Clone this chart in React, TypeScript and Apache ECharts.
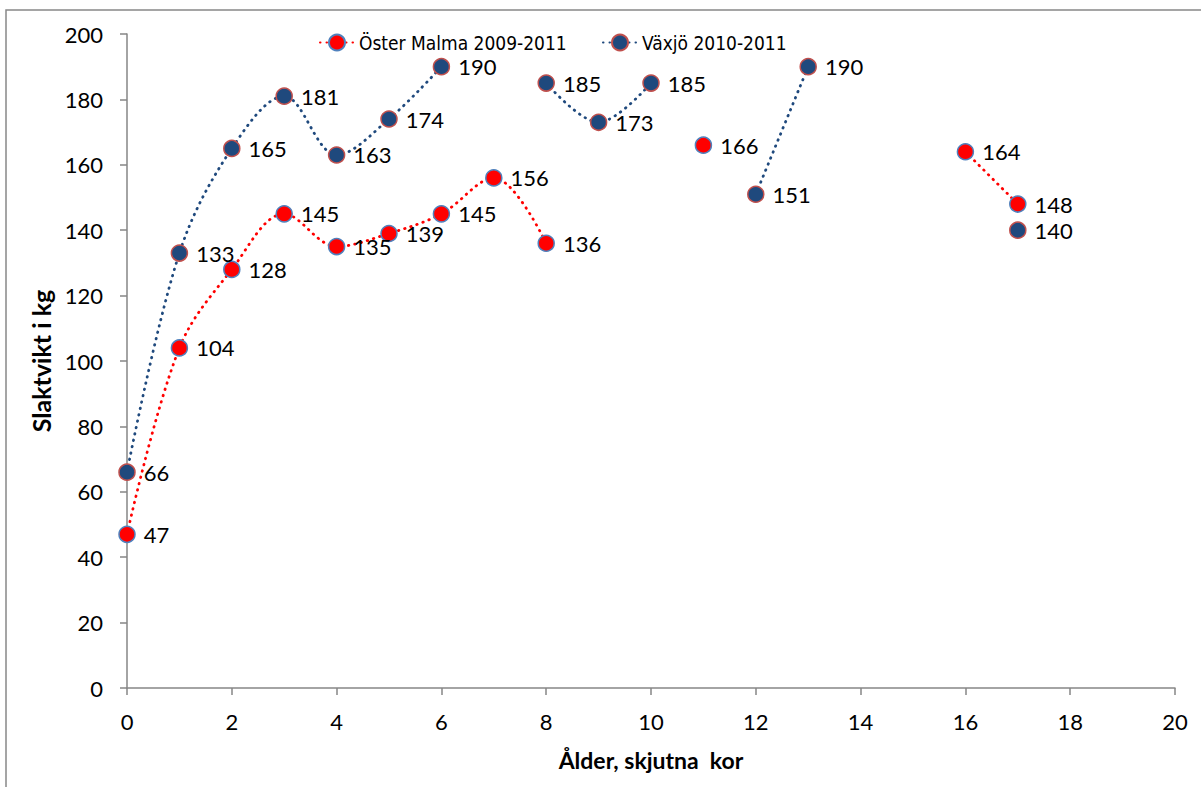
import React, { useEffect, useRef } from "react";
import * as echarts from "echarts";

const ages = [0, 1, 2, 3, 4, 5, 6, 7, 8, 9, 10, 11, 12, 13, 14, 15, 16, 17];
const osterMalma: (number | null)[] = [47, 104, 128, 145, 135, 139, 145, 156, 136, null, null, 166, null, null, null, null, 164, 148];
const vaxjo: (number | null)[] = [66, 133, 165, 181, 163, 174, 190, null, 185, 173, 185, null, 151, 190, null, null, null, 140];
const seriesNames = ["Öster Malma 2009-2011", "Växjö 2010-2011"];
const xTitle = "Ålder, skjutna  kor";
const yTitle = "Slaktvikt i kg";

const FONT = "Lato, 'Open Sans', sans-serif";
const LEGEND_FONT = "'DejaVu Sans Condensed', Lato, sans-serif";

function toData(vals: (number | null)[]) {
  return ages.map((x, i) => [x, vals[i] === null ? "-" : vals[i]]);
}

export default function App() {
  const ref = useRef<HTMLDivElement>(null);
  useEffect(() => {
    if (!ref.current) return;
    const chart = echarts.init(ref.current, undefined, { renderer: "svg" });
    const mk = (name: string, vals: (number | null)[], color: string, border: string) => ({
      name,
      type: "line",
      data: toData(vals),
      smooth: 0.35,
      connectNulls: false,
      symbol: "circle",
      symbolSize: 16,
      showAllSymbol: true,
      itemStyle: { color, borderColor: border, borderWidth: 1.5 },
      lineStyle: { color, width: 2.8, type: [0.5, 6], cap: "round" },
      label: {
        show: true,
        position: "right",
        distance: 8,
        fontSize: 22,
        fontFamily: FONT,
        color: "#000",
        formatter: (p: any) => String(p.value[1]),
      },
      emphasis: { disabled: true },
    });
    const legendBase = {
      top: 28,
      itemWidth: 34,
      itemHeight: 20,
      itemGap: 10,
      textStyle: { fontSize: 19, fontFamily: LEGEND_FONT, color: "#000" },
    };
    chart.setOption({
      animation: false,
      backgroundColor: "#fff",
      textStyle: { fontFamily: FONT },
      graphic: [
        {
          type: "rect",
          shape: { x: 6, y: 10, width: 1300, height: 900 },
          style: { fill: "none", stroke: "#888", lineWidth: 1.5 },
          silent: true,
        },
      ],
      legend: [
        { ...legendBase, left: 314, data: [seriesNames[0]] },
        { ...legendBase, left: 597, data: [seriesNames[1]] },
      ],
      grid: { left: 127, right: 26, top: 34, bottom: 99, containLabel: false },
      xAxis: {
        type: "value",
        min: 0,
        max: 20,
        interval: 2,
        name: xTitle,
        nameLocation: "middle",
        nameGap: 60,
        nameTextStyle: { fontSize: 23, fontWeight: "bold", fontFamily: FONT, color: "#000" },
        axisLine: { show: true, lineStyle: { color: "#868686", width: 1.5 } },
        axisTick: { show: true, length: 7, lineStyle: { color: "#868686", width: 1.5 } },
        axisLabel: { fontSize: 22, fontFamily: FONT, color: "#000", margin: 22 },
        splitLine: { show: false },
      },
      yAxis: {
        type: "value",
        min: 0,
        max: 200,
        interval: 20,
        name: yTitle,
        nameLocation: "middle",
        nameGap: 69,
        nameTextStyle: { fontSize: 25, fontWeight: "bold", fontFamily: FONT, color: "#000" },
        axisLine: { show: true, lineStyle: { color: "#868686", width: 1.5 } },
        axisTick: { show: true, length: 7, lineStyle: { color: "#868686", width: 1.5 } },
        axisLabel: { fontSize: 22, fontFamily: FONT, color: "#000", margin: 24 },
        splitLine: { show: false },
      },
      series: [
        mk(seriesNames[0], osterMalma, "#ff0000", "#4f81bd"),
        mk(seriesNames[1], vaxjo, "#1f497d", "#c0504d"),
      ],
    });
    return () => chart.dispose();
  }, []);
  return (
    <div
      ref={ref}
      style={{ position: "fixed", left: 0, top: 0, width: 1201, height: 787, background: "#fff" }}
    />
  );
}
